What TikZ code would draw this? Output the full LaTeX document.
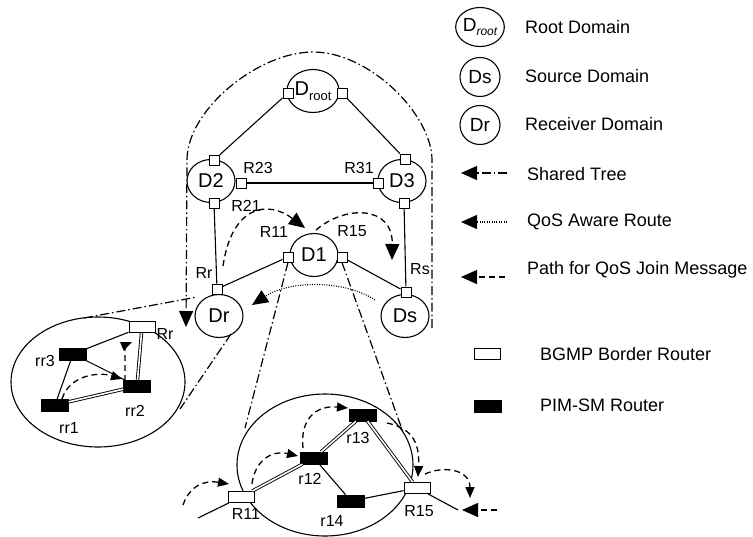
\documentclass[tikz,border=0pt]{standalone}
\usepackage{fontspec}
\setmainfont{Liberation Sans}
\usetikzlibrary{shapes.geometric,arrows.meta}
\begin{document}
\begin{tikzpicture}[x=1pt,y=-1pt,
  dom/.style={ellipse,draw,line width=1.1pt,fill=white,minimum width=48pt,minimum height=43pt,inner sep=0pt,font=\fontsize{20}{22}\selectfont},
  ldom/.style={dom,minimum width=40pt,minimum height=39pt,font=\fontsize{19}{20}\selectfont},
  bsq/.style={draw,fill=white,line width=1pt,minimum size=10pt,inner sep=0pt},
  brt/.style={draw,fill=white,line width=1pt,minimum width=26pt,minimum height=11pt,inner sep=0pt},
  prt/.style={draw,fill=black,minimum width=27pt,minimum height=12pt,inner sep=0pt},
  lbl/.style={inner sep=0pt,font=\fontsize{16}{18}\selectfont},
  leg/.style={anchor=west,inner sep=0pt,font=\fontsize{18}{20}\selectfont},
  link/.style={line width=1.1pt},
  dbl/.style={double=white,double distance=1.6pt,line width=0.9pt},
  treeln/.style={line width=1.2pt,dash pattern=on 9pt off 3pt on 1.5pt off 3pt},
  qosln/.style={line width=1.1pt,dash pattern=on 1pt off 1.4pt},
  joinmsg/.style={line width=1.3pt,dash pattern=on 6pt off 4pt},
  bigtip/.style={-{Triangle[length=16pt,width=14pt]}},
  smtip/.style={-{Triangle[length=11pt,width=9pt]}},
]
\useasboundingbox (0,0) rectangle (753,536);

% ---------- shared tree hull ----------
\coordinate (hR) at (432,328);
\coordinate (hL) at (186,327);
\draw[treeln,bigtip] (hR) -- (432,160) .. controls (432,115) and (370,52) .. (313,52)
   .. controls (258,52) and (187,110) .. (187,160) -- (hL);

% ---------- domains ----------
\node[dom] (Droot) at (313,91) {D\raisebox{-.45ex}{\fontsize{13}{13}\selectfont root}};
\node[dom] (D2) at (211,181) {D2};
\node[dom] (D3) at (402,181) {D3};
\node[dom] (D1) at (314,255) {D1};
\node[dom] (Dr) at (219,316) {Dr};
\node[dom] (Ds) at (405,316) {Ds};

% border squares
\node[bsq] (sRL) at (288,93) {};
\node[bsq] (sRR) at (342,93) {};
\node[bsq] (s2T) at (214,160) {};
\node[bsq] (s2R) at (241,183) {};
\node[bsq] (s2B) at (214,203) {};
\node[bsq] (s3T) at (405,159) {};
\node[bsq] (s3L) at (378,183) {};
\node[bsq] (s3B) at (404,203) {};
\node[bsq] (s1L) at (288,257) {};
\node[bsq] (s1R) at (342,257) {};
\node[bsq] (sRr) at (217,289) {};
\node[bsq] (sRs) at (406,292) {};

\draw[link] (sRL) -- (s2T);
\draw[link] (sRR) -- (s3T);
\draw[link] (s2R) -- (s3L);
\draw[link] (s2B) -- (sRr);
\draw[link] (s3B) -- (sRs);
\draw[link] (s1L) -- (sRr);
\draw[link] (s1R) -- (sRs);

% labels
\node[lbl] (tR23) at (258,168) {R23};
\node[lbl] (tR31) at (359,168) {R31};
\node[lbl] (tR21) at (246,206) {R21};
\node[lbl] (tR11) at (274,232) {R11};
\node[lbl] (tR15) at (352,231) {R15};
\node[lbl] (tRr) at (204,273) {Rr};
\node[lbl] (tRs) at (420,269) {Rs};

% QoS join messages (top)
\draw[joinmsg,bigtip] (223,266) .. controls (232,205) and (268,200) .. (305,228);
\draw[joinmsg,bigtip] (316,230) .. controls (345,205) and (393,205) .. (392,260);

% QoS aware route
\draw[qosln,bigtip] (375,300) .. controls (345,280) and (290,280) .. (252,305);

% cone lines (shared tree zooms)
\coordinate (c1a) at (84,318);
\coordinate (c1b) at (197,297);
\coordinate (c2a) at (231,334);
\coordinate (c2b) at (180,409);
\coordinate (c3b) at (245,428);
\coordinate (c4b) at (403,432);
\draw[treeln] (c1a) -- (c1b);
\draw[treeln] (c2a) -- (c2b);
\draw[treeln] (s1L.south) -- (c3b);
\draw[treeln] (s1R.south) -- (c4b);

% ---------- left zoom (Dr) ----------
\draw[line width=1.1pt] (98,382) ellipse [x radius=87pt, y radius=65pt];
\node[brt] (zRr) at (142,327) {};
\node[prt] (rr3) at (73,354) {};
\node[prt] (rr2) at (137,386) {};
\node[prt] (rr1) at (55,405) {};
\draw[link] (zRr) -- (rr3);
\draw[link] (rr3) -- (rr2);
\draw[link] (rr3) -- (rr1);
\draw[dbl] (rr1) -- (rr2);
\draw[dbl] (rr2) -- (zRr);
\node[lbl] (tzRr) at (165,334) {Rr};
\node[lbl] (trr3) at (45,361) {rr3};
\node[lbl] (trr2) at (135,411) {rr2};
\node[lbl] (trr1) at (69,428) {rr1};
\draw[joinmsg,smtip] (62,399) .. controls (70,374) and (100,372) .. (122,379);
\draw[joinmsg,smtip] (125,381) -- (125,352) .. controls (125,345) .. (132,342);

% ---------- bottom zoom (D1) ----------
\draw[line width=1.1pt] (325,465) ellipse [x radius=88pt, y radius=71pt];
\coordinate (eL) at (198,518);
\coordinate (eR) at (458,510);
\node[brt] (R11) at (241,497) {};
\node[prt] (r12) at (314,458) {};
\node[prt] (r13) at (363,415) {};
\node[prt] (r14) at (351,501) {};
\node[brt] (R15) at (417,488) {};
\draw[link] (eL) -- (R11);
\draw[link] (R15) -- (eR);
\draw[dbl] (R11) -- (r12);
\draw[dbl] (r12) -- (r13);
\draw[dbl] (r13) -- (R15);
\draw[link] (r12) -- (r14);
\draw[link] (r14) -- (R15);
\node[lbl] (tbR11) at (246,514) {R11};
\node[lbl] (tr12) at (310,479) {r12};
\node[lbl] (tr13) at (358,438) {r13};
\node[lbl] (tr14) at (332,521) {r14};
\node[lbl] (tbR15) at (419,511) {R15};
\draw[joinmsg,smtip] (183,505) .. controls (190,485) and (205,480) .. (229,484);
\draw[joinmsg,smtip] (252,484) .. controls (255,460) and (272,450) .. (298,456);
\draw[joinmsg,smtip] (303,448) .. controls (300,420) and (315,405) .. (348,408);
\draw[joinmsg,smtip] (387,423) .. controls (410,428) and (420,440) .. (418,477);
\draw[joinmsg,smtip] (425,474) .. controls (445,465) and (470,470) .. (470,498);
\coordinate (jf1) at (497,510);
\coordinate (jf2) at (462,510);
\draw[joinmsg,bigtip] (jf1) -- (jf2);

% ---------- legend ----------
\node[ldom] (lgRoot) at (480,27) {D\raisebox{-.4ex}{\fontsize{12}{12}\selectfont\itshape root}};
\node[leg] at (525,27) {Root Domain};
\node[ldom] (lgS) at (480,77) {Ds};
\node[leg] at (525,76) {Source Domain};
\node[ldom] (lgR) at (480,125) {Dr};
\node[leg] at (525,124) {Receiver Domain};
\coordinate (la1) at (507,173); \coordinate (lb1) at (461,173);
\draw[treeln,bigtip] (la1) -- (lb1);
\node[leg] at (527,174) {Shared Tree};
\coordinate (la2) at (507,222); \coordinate (lb2) at (461,222);
\draw[qosln,bigtip] (la2) -- (lb2);
\node[leg] at (527,222) {QoS Aware Route};
\coordinate (la3) at (505,277); \coordinate (lb3) at (461,277);
\draw[joinmsg,bigtip] (la3) -- (lb3);
\node[leg] at (527,270) {Path for QoS Join Message};
\node[brt] (lgB) at (487,354) {};
\node[leg] at (540,354) {BGMP Border Router};
\node[prt] (lgP) at (488,406) {};
\node[leg] at (540,405) {PIM-SM Router};
\end{tikzpicture}
\end{document}
